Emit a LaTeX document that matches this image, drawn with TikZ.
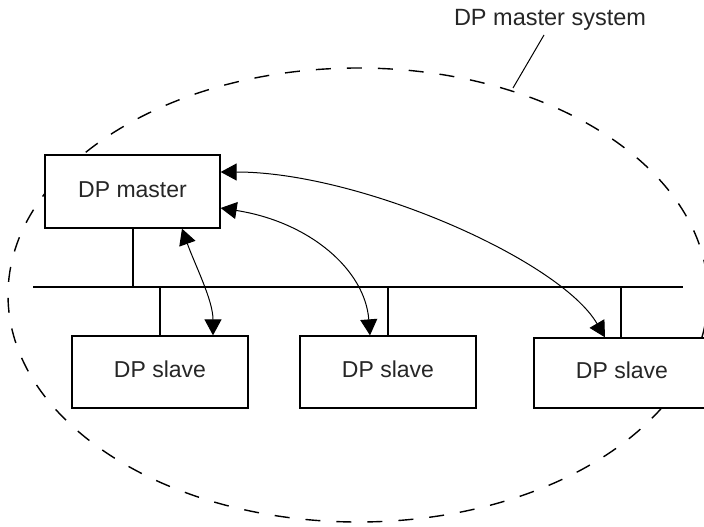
\documentclass[tikz,border=0pt]{standalone}
\usepackage{fontspec}
\setmainfont{Liberation Sans}
\usetikzlibrary{arrows.meta,calc}
\tikzset{
  unitbox/.style={draw=black, fill=white, line width=1.3pt, inner sep=0pt,
    font=\fontsize{23}{26}\selectfont, text=black!85,
    text height=14pt, text depth=3pt},
  labeltext/.style={inner sep=0pt, font=\fontsize{23.5}{26}\selectfont, text=black!85,
    text height=14pt, text depth=3pt},
  busline/.style={draw=black, line width=1.3pt},
  sysline/.style={draw=black, line width=1.4pt, dash pattern=on 15pt off 16pt},
  leader/.style={draw=black, line width=1pt},
  msg/.style={draw=black, line width=1pt,
    {Triangle[length=16pt,width=17pt]}-{Triangle[length=16pt,width=17pt]}}
}
\begin{document}
\begin{tikzpicture}[x=1pt,y=-1pt]
\useasboundingbox (0,0) rectangle (704,527);
\clip (0,0) rectangle (704,527);
\fill[white] (0,0) rectangle (704,527);
% system boundary
\draw[sysline] (358,295) ellipse [x radius=350, y radius=227];
% label
\node[labeltext] (lbl) at (550,20.5) {DP master system};
\coordinate (lt) at (544,35);
\coordinate (le) at (513,88);
\draw[leader] (lt) -- (le);
% bus
\coordinate (busL) at (33,287);
\coordinate (busR) at (683,287);
\draw[busline] (busL) -- (busR);
% units
\node[unitbox, minimum width=175pt, minimum height=73pt] (master) at (132.5,191.5) {DP master};
\node[unitbox, minimum width=176pt, minimum height=72pt] (s1) at (160,372) {DP slave};
\node[unitbox, minimum width=176pt, minimum height=72pt] (s2) at (388,372) {DP slave};
\node[unitbox, minimum width=176pt, minimum height=70pt] (s3) at (622,373) {DP slave};
% drops
\draw[busline] ([xshift=0.5pt]master.south) -- ([xshift=0.5pt]master.south |- busL);
\draw[busline] (s1.north) -- (s1.north |- busL);
\draw[busline] (s2.north) -- (s2.north |- busL);
\draw[busline] ([xshift=-1pt]s3.north) -- ([xshift=-1pt]s3.north |- busL);
% messages
\coordinate (a1s) at ($(master.south)+(49.5,0)$);
\coordinate (a1e) at ($(s1.north)+(53,0)$);
\coordinate (a2s) at ($(master.east)+(0,16.5)$);
\coordinate (a2e) at ($(s2.north)+(-18,0)$);
\coordinate (a3s) at ($(master.east)+(0,-19.5)$);
\coordinate (a3e) at ($(s3.north)+(-17,0)$);
\draw[msg] (a1s) .. controls (195,265) and (213,300) .. (a1e);
\draw[msg] (a2s) .. controls (310,222) and (365,270) .. (a2e);
\draw[msg] (a3s) .. controls (360,172) and (560,260) .. (a3e);
\end{tikzpicture}
\end{document}
